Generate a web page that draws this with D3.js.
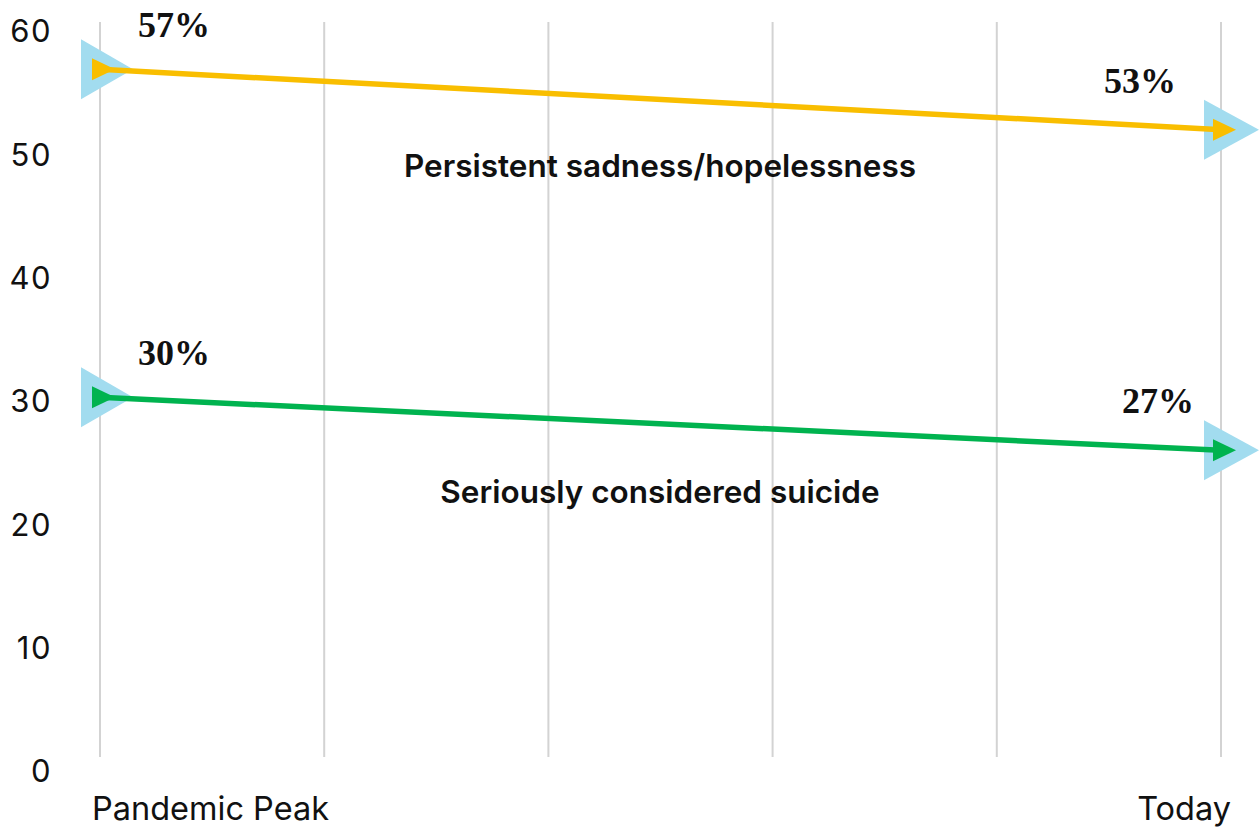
<!DOCTYPE html>
<html><head><meta charset="utf-8">
<script src="https://cdn.jsdelivr.net/npm/d3@7"></script>
<style>
html,body{margin:0;padding:0;background:#fff;}
svg{display:block;}
</style></head>
<body><svg id="c" width="1260" height="829"></svg>
<script>
const periods = ["Pandemic Peak", "", "", "", "", "Today"];
const seriesNames = ["Persistent sadness/hopelessness", "Seriously considered suicide"];
const startValues = [56.9, 30.3];
const endValues = [52.0, 26.0];
const startLabels = ["57%", "30%"];
const endLabels = ["53%", "27%"];
const seriesColors = ["#f9be00", "#00b34f"];
const yTicks = [0, 10, 20, 30, 40, 50, 60];

const svg = d3.select("#c");
const x = d3.scalePoint().domain(d3.range(periods.length)).range([100, 1221]);
const y = d3.scaleLinear().domain([0, 60]).range([771, 31]);
const sans = "Inter, 'Open Sans', sans-serif";
const serif = "'Liberation Serif', 'Times New Roman', serif";

// vertical gridlines
svg.append("g").selectAll("line").data(d3.range(periods.length)).join("line")
  .attr("x1", d => x(d)).attr("x2", d => x(d))
  .attr("y1", 22).attr("y2", 757)
  .attr("stroke", "#d3d3d3").attr("stroke-width", 2);

// y axis
const yAxis = d3.axisLeft(y).tickValues(yTicks).tickSize(0).tickPadding(0);
const gy = svg.append("g").attr("transform", "translate(52,0)").call(yAxis);
gy.select(".domain").remove();
gy.selectAll("text").attr("font-family", sans)
  .attr("font-size", 31).attr("font-weight", 400).attr("fill", "#111").attr("dy", "0.35em")
  .attr("letter-spacing", 1.5);

// x labels
svg.append("text").attr("x", 92).attr("y", 820).text(periods[0])
  .attr("font-family", sans).attr("font-size", 32.5).attr("fill", "#111");
svg.append("text").attr("x", 1231).attr("y", 820).attr("text-anchor", "end").text(periods[5])
  .attr("font-family", sans).attr("font-size", 32.5).attr("fill", "#111");

const first = 0, last = periods.length - 1;
const endLabelRight = [1176, 1194];
seriesNames.forEach((name, i) => {
  const g = svg.append("g");
  const x0 = x(first), x1 = x(last), y0 = y(startValues[i]), y1 = y(endValues[i]);
  // light blue big triangles
  [[x0, y0, -19, 33], [x1, y1, -17, 38]].forEach(([cx, cy, b, t]) => {
    g.append("path").attr("d", `M${cx + b},${cy - 30}L${cx + t},${cy}L${cx + b},${cy + 30}Z`)
      .attr("fill", "#a2dcef");
  });
  // line
  g.append("line").attr("x1", x0).attr("y1", y0).attr("x2", x1 + 5).attr("y2", y1 + (y1 - y0) * 5 / (x1 - x0))
    .attr("stroke", seriesColors[i]).attr("stroke-width", 5.5);
  // small arrowheads
  [[x0, y0], [x1, y1]].forEach(([cx, cy]) => {
    g.append("path").attr("d", `M${cx - 8},${cy - 11}L${cx + 15},${cy}L${cx - 8},${cy + 11}Z`)
      .attr("fill", seriesColors[i]);
  });
  // value labels
  g.append("text").attr("x", x0 + 38).attr("y", y0 - 32).text(startLabels[i])
    .attr("font-family", serif).attr("font-weight", "bold").attr("font-size", 36).attr("fill", "#111");
  g.append("text").attr("x", endLabelRight[i]).attr("y", y1 - 37).attr("text-anchor", "end").text(endLabels[i])
    .attr("font-family", serif).attr("font-weight", "bold").attr("font-size", 36).attr("fill", "#111");
});

// series names
svg.append("text").attr("x", 660).attr("y", 177).attr("text-anchor", "middle").text(seriesNames[0])
  .attr("font-family", sans).attr("font-weight", 600).attr("font-size", 31.5).attr("fill", "#111");
svg.append("text").attr("x", 660).attr("y", 503).attr("text-anchor", "middle").text(seriesNames[1])
  .attr("font-family", sans).attr("font-weight", 600).attr("font-size", 31.5).attr("fill", "#111");
</script>
</body></html>
